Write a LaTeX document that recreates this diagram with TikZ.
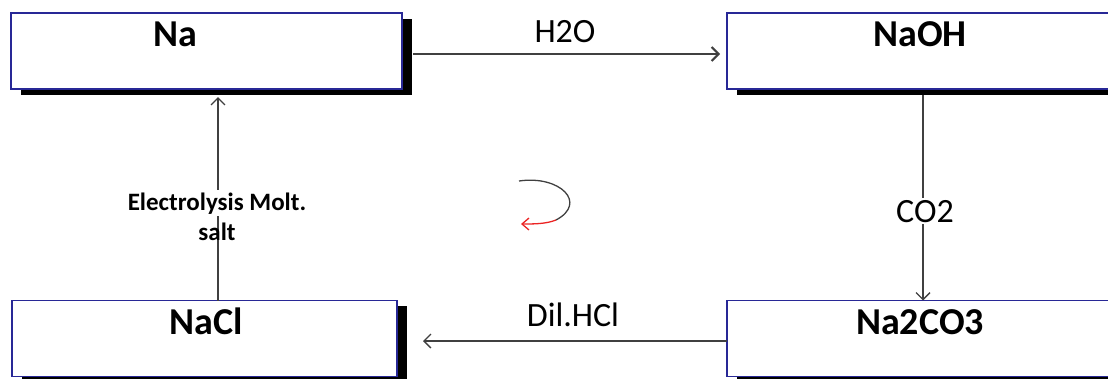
\documentclass[tikz,border=0pt]{standalone}
\usepackage{fontspec}
\setmainfont{Carlito}
\usetikzlibrary{arrows.meta}

\definecolor{boxblue}{RGB}{40,40,150}
\definecolor{linegray}{RGB}{64,64,64}
\definecolor{cyclered}{RGB}{235,35,35}

\tikzset{
    chembox/.style={draw=boxblue, line width=1.3pt, fill=white, inner sep=0pt, outer sep=0pt,
        minimum height=76pt},
    boxshadow/.style={fill=black},
    boxtext/.style={anchor=base, inner sep=0pt, font=\fontsize{38}{40}\selectfont\bfseries},
    steplabel/.style={anchor=base, inner sep=0pt, font=\fontsize{34}{36}\selectfont},
    flow/.style={draw=linegray, line width=1.3pt, -{Straight Barb[length=7pt,width=14pt]}},
}

\begin{document}
\begin{tikzpicture}[x=1pt, y=-1pt]
        \useasboundingbox (0,0) rectangle (1108,378);
        \clip (0,0) rectangle (1108,378);

        % --- Ombre ---
        \fill[boxshadow] (21,19) rectangle (412,95);
        \fill[boxshadow] (737,19) rectangle (1130,95);
        \fill[boxshadow] (22,306) rectangle (407,384);
        \fill[boxshadow] (737,306) rectangle (1130,384);

        % --- Caselle ---
        \node[chembox, minimum width=391pt] (na)   at (206.5,51)  {};
        \node[chembox, minimum width=400pt] (naoh) at (927,51)    {};
        \node[chembox, minimum width=385pt] (nacl) at (204.5,338.5) {};
        \node[chembox, minimum width=400pt] (naco) at (927,338.5) {};

        % Testi delle caselle
        \node[boxtext] (tna)   at (175,46)  {Na};
        \node[boxtext] (tnaoh) at (920,46)  {NaOH};
        \node[boxtext] (tnacl) at (206,334) {NaCl};
        \node[boxtext] (tnaco) at (920,334) {Na2CO3};

        % --- Frecce ---
        \draw[flow, line width=2pt, shorten <=11pt, shorten >=7pt]
            ([yshift=-3pt]na.east) -- ([yshift=-3pt]naoh.west);
        \draw[flow, shorten <=6pt] ([xshift=-4pt]naoh.south) -- ([xshift=-4pt]naco.north);
        \draw[flow, shorten >=26pt] ([yshift=-2.5pt]naco.west) -- ([yshift=-2.5pt]nacl.east);
        \draw[flow, shorten >=8pt] ([xshift=13.5pt]nacl.north) -- ([xshift=11.5pt]na.south);

        % Etichette
        \node[steplabel] (lwater) at (565,42)  {H2O};
        \node[steplabel, fill=white, inner sep=2pt] (lco) at (925,222) {CO2};
        \node[steplabel] (lhcl)   at (573,326) {Dil.HCl};
        \node[anchor=base, fill=white, inner sep=2pt, font=\fontsize{25}{28}\selectfont\bfseries]
            (lelec) at (217,210) {Electrolysis Molt.};
        \node[anchor=base, inner sep=0pt, font=\fontsize{25}{28}\selectfont\bfseries]
            (lsalt) at (217,240) {salt};

        % Ciclo
        \draw[linegray, line width=1.3pt] (519,181) .. controls (560,175) and (588,203) .. (556,220);
        \draw[cyclered, line width=1.3pt, -{Straight Barb[length=7pt,width=12pt]}]
            (556,220) .. controls (546,224) and (534,224) .. (521,224);
\end{tikzpicture}
\end{document}
